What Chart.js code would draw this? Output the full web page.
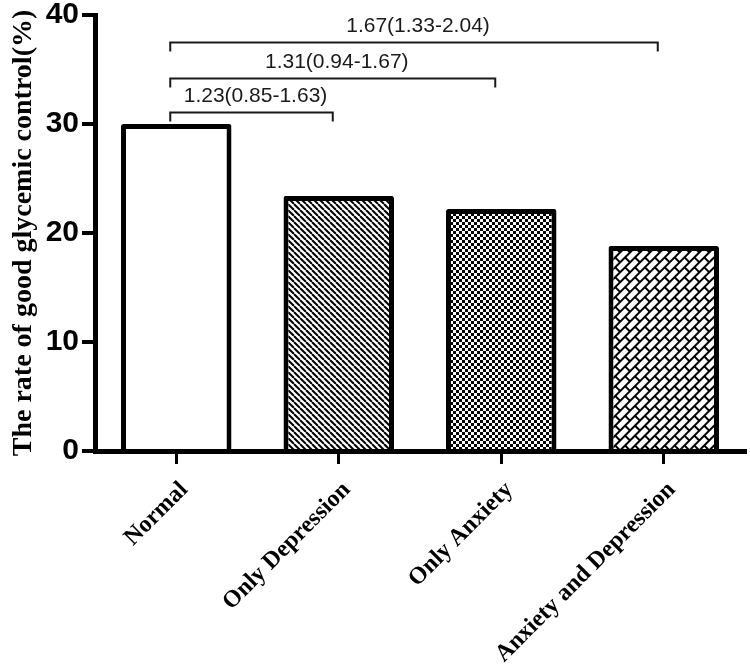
<!DOCTYPE html>
<html>
<head>
<meta charset="utf-8">
<script src="https://cdn.jsdelivr.net/npm/chart.js@4.4.1/dist/chart.umd.min.js"></script>
<style>
    html, body { margin: 0; padding: 0; background: #fff; }
    #wrap { width: 750px; height: 664px; }
</style>
</head>
<body>
<div id="wrap"><canvas id="rateChart" width="750" height="664"></canvas></div>
<script>
// Data
const categories = ['Normal', 'Only Depression', 'Only Anxiety', 'Anxiety and Depression'];
const rates = [30.0, 23.4, 22.2, 18.8];
const yTicks = [0, 10, 20, 30, 40];

// Odds ratio brackets (from group -> to group, height in % units)
const orLabels = ['1.23(0.85-1.63)', '1.31(0.94-1.67)', '1.67(1.33-2.04)'];
const orFrom = [0, 0, 0];
const orTo = [1, 2, 3];
const orLevel = [31.1, 34.2, 37.5];

const serif = '"Liberation Serif", "Times New Roman", serif';
const sans = '"Liberation Sans", Arial, sans-serif';

// Fill patterns
function makeTile(size, draw) {
    const c = document.createElement('canvas');
    c.width = size; c.height = size;
    const g = c.getContext('2d');
    g.fillStyle = '#fff';
    g.fillRect(0, 0, size, size);
    draw(g, size);
    return c;
}

const ctxMain = document.getElementById('rateChart').getContext('2d');

const stripes = ctxMain.createPattern(makeTile(6, (g, s) => {
    g.strokeStyle = '#000';
    g.lineWidth = 2;
    for (let k = -1; k <= 1; k++) {
        g.beginPath();
        g.moveTo(k * s, 0);
        g.lineTo(k * s + s, s);
        g.stroke();
    }
}), 'repeat');

const checker = ctxMain.createPattern(makeTile(6, (g, s) => {
    g.fillStyle = '#000';
    g.fillRect(0, 0, s / 2, s / 2);
    g.fillRect(s / 2, s / 2, s / 2, s / 2);
}), 'repeat');

const bricks = ctxMain.createPattern(makeTile(14, (g, s) => {
    g.fillStyle = '#000';
    g.fillRect(0, 0, s, 2);
    g.fillRect(0, s / 2, s, 2);
    g.fillRect(0, 0, 2, s / 2);
    g.fillRect(s / 2, s / 2, 2, s / 2);
}), 'repeat');
bricks.setTransform(new DOMMatrix().rotate(-45));

const fills = ['#ffffff', stripes, checker, bricks];

// Brackets with odds ratios above the bars
const bracketPlugin = {
    id: 'brackets',
    afterDatasetsDraw(chart) {
        const { ctx, scales: { x, y } } = chart;
        ctx.save();
        ctx.strokeStyle = '#1a1a1a';
        ctx.fillStyle = '#1a1a1a';
        ctx.lineWidth = 2;
        ctx.font = '21px ' + sans;
        ctx.textAlign = 'center';
        ctx.textBaseline = 'alphabetic';
        orLabels.forEach((label, i) => {
            const x1 = x.getPixelForValue(orFrom[i]) - 6;
            const x2 = x.getPixelForValue(orTo[i]) - 6;
            const yy = Math.round(y.getPixelForValue(orLevel[i])) + 0.5;
            ctx.beginPath();
            ctx.moveTo(x1, yy + 9);
            ctx.lineTo(x1, yy);
            ctx.lineTo(x2, yy);
            ctx.lineTo(x2, yy + 9);
            ctx.stroke();
            ctx.fillText(label, (x1 + x2) / 2 + 4, yy - 11);
        });
        ctx.restore();
    }
};

new Chart(ctxMain, {
    type: 'bar',
    data: {
        labels: categories,
        datasets: [{
            data: rates,
            backgroundColor: fills,
            borderColor: '#000',
            borderWidth: 5,
            borderRadius: 2,
            borderSkipped: 'start',
            barPercentage: 0.68,
            categoryPercentage: 1.0
        }]
    },
    options: {
        responsive: false,
        animation: false,
        layout: { padding: { top: 0, right: 5, bottom: 0, left: 0 } },
        plugins: { legend: { display: false }, tooltip: { enabled: false } },
        scales: {
            x: {
                offset: true,
                grid: { display: true, drawOnChartArea: false, offset: false, tickLength: 13, lineWidth: 3, color: '#000' },
                border: { display: true, width: 5, color: '#000' },
                ticks: {
                    color: '#000',
                    minRotation: 45, maxRotation: 45,
                    padding: 12,
                    labelOffset: 8,
                    font: { family: serif, size: 24, weight: 'bold' }
                },
                afterFit: s => { s.height = 213; }
            },
            y: {
                min: 0, max: 40,
                afterBuildTicks: s => { s.ticks = yTicks.map(v => ({ value: v })); },
                grid: { display: true, drawOnChartArea: false, tickLength: 13, lineWidth: 4, color: '#000' },
                border: { display: true, width: 5, color: '#000' },
                ticks: {
                    color: '#000',
                    padding: 3,
                    font: { family: sans, size: 30, weight: 'bold', lineHeight: 0.8 }
                },
                title: {
                    display: true,
                    text: 'The rate of good glycemic control(%)',
                    color: '#000',
                    padding: { top: 7, bottom: 0 },
                    font: { family: serif, size: 28, weight: 'bold' }
                },
                afterFit: s => { s.width = 95; }
            }
        }
    },
    plugins: [bracketPlugin]
});
</script>
</body>
</html>
